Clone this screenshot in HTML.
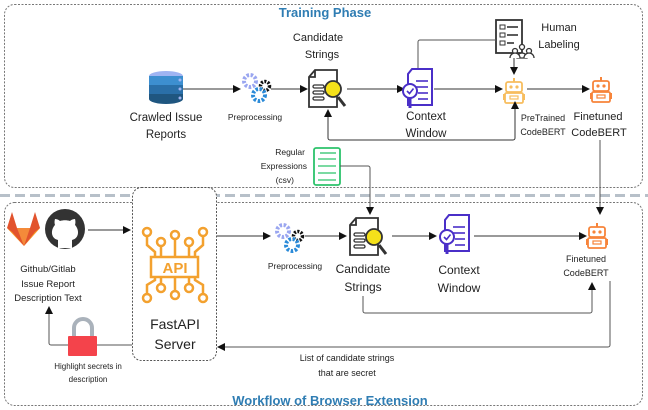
<!DOCTYPE html>
<html><head><meta charset="utf-8"><style>
html,body{margin:0;padding:0;background:#fff;width:648px;height:410px;overflow:hidden}
text{font-family:"Liberation Sans",sans-serif;fill:#222}
</style></head><body>
<svg width="648" height="410" viewBox="0 0 648 410" xmlns="http://www.w3.org/2000/svg">
<defs>
<marker id="a" markerWidth="8" markerHeight="8" refX="7" refY="4" orient="auto" markerUnits="userSpaceOnUse"><path d="M0,0 L8,4 L0,8 z" fill="#111"/></marker>
<g id="gears">
 <circle cx="11" cy="9" r="6" fill="none" stroke="#9aa6f0" stroke-width="4" stroke-dasharray="2.5 1.6"/>
 <circle cx="26" cy="14" r="4.5" fill="none" stroke="#111" stroke-width="3.5" stroke-dasharray="2 1.4"/>
 <circle cx="20" cy="23" r="6" fill="none" stroke="#2a8ad8" stroke-width="4" stroke-dasharray="2.5 1.6"/>
</g>
<g id="cand">
 <path d="M8,1 H30 V38 H2 V8 Z M8,1 V8 H2" fill="#fff" stroke="#333" stroke-width="1.8"/>
 <rect x="6" y="16" width="11" height="3" rx="1.5" fill="none" stroke="#333" stroke-width="1.3"/>
 <rect x="6" y="22" width="11" height="3" rx="1.5" fill="none" stroke="#333" stroke-width="1.3"/>
 <rect x="6" y="28" width="11" height="3" rx="1.5" fill="none" stroke="#333" stroke-width="1.3"/>
 <line x1="31" y1="28" x2="38" y2="37" stroke="#333" stroke-width="3"/>
 <circle cx="26" cy="20" r="8" fill="#f5e11a" stroke="#333" stroke-width="1.8"/>
</g>
<g id="ctx">
 <path d="M10,0 H30 V36 H6 V5 Z" fill="#fff" stroke="#4a2fc8" stroke-width="2"/>
 <line x1="14" y1="12" x2="26" y2="12" stroke="#4a2fc8" stroke-width="1.6"/>
 <line x1="14" y1="18" x2="26" y2="18" stroke="#4a2fc8" stroke-width="1.6"/>
 <line x1="16" y1="24" x2="26" y2="24" stroke="#4a2fc8" stroke-width="1.6"/>
 <line x1="16" y1="30" x2="26" y2="30" stroke="#4a2fc8" stroke-width="1.6"/>
 <circle cx="8" cy="22" r="7" fill="#fff" stroke="#4a2fc8" stroke-width="2"/>
 <path d="M5,22 l2.5,2.5 l4,-5" fill="none" stroke="#4a2fc8" stroke-width="1.6"/>
 <line x1="8" y1="29" x2="8" y2="39" stroke="#4a2fc8" stroke-width="3"/>
</g>
<g id="robot">
 <line x1="11" y1="0" x2="11" y2="4" stroke="currentColor" stroke-width="2"/>
 <rect x="3" y="4" width="16" height="10" rx="2" fill="none" stroke="currentColor" stroke-width="1.8"/>
 <circle cx="8" cy="9" r="1.6" fill="currentColor"/><circle cx="14" cy="9" r="1.6" fill="currentColor"/>
 <rect x="2" y="15" width="18" height="10" rx="1.5" fill="none" stroke="currentColor" stroke-width="1.8"/>
 <rect x="7" y="18" width="8" height="3" fill="none" stroke="currentColor" stroke-width="1.2"/>
 <rect x="0" y="16" width="2" height="6" fill="currentColor"/><rect x="20" y="16" width="2" height="6" fill="currentColor"/>
</g>
</defs>

<rect x="4.5" y="4.5" width="638" height="183" rx="10" fill="none" stroke="#777" stroke-width="1" stroke-dasharray="2 1.5"/>
<line x1="0" y1="195.5" x2="648" y2="195.5" stroke="#b7c0c9" stroke-width="3" stroke-dasharray="10 5"/>
<rect x="4.5" y="202.5" width="638" height="203" rx="10" fill="none" stroke="#777" stroke-width="1" stroke-dasharray="2 1.5"/>
<text x="325" y="17" text-anchor="middle" font-size="13" font-weight="bold" style="fill:#2f7db3">Training Phase</text>
<text x="330" y="405" text-anchor="middle" font-size="13" font-weight="bold" style="fill:#2f7db3">Workflow of Browser Extension</text>

<g>
 <ellipse cx="166" cy="76" rx="17" ry="5" fill="#9fb4f2"/>
 <rect x="149" y="76" width="34" height="9" fill="#3d8fd0"/>
 <rect x="149" y="85" width="34" height="9" fill="#2a6fa8"/>
 <path d="M149,94 h34 v5 a17,5 0 0 1 -34,0 z" fill="#1f5680"/>
 <circle cx="180" cy="80" r="1.5" fill="#9fb4f2"/><circle cx="180" cy="89" r="1.5" fill="#9fb4f2"/><circle cx="180" cy="98" r="1.5" fill="#9fb4f2"/>
</g>
<text x="166" y="121" text-anchor="middle" font-size="11.5">Crawled Issue</text>
<text x="166" y="138" text-anchor="middle" font-size="11.5">Reports</text>
<line x1="183" y1="89" x2="240" y2="89" stroke="#333" marker-end="url(#a)"/>
<use href="#gears" x="239" y="72"/>
<text x="255" y="120" text-anchor="middle" font-size="8.5">Preprocessing</text>
<line x1="271" y1="89" x2="307" y2="89" stroke="#333" marker-end="url(#a)"/>
<use href="#cand" x="307" y="69"/>
<text x="318" y="41" text-anchor="middle" font-size="11">Candidate</text>
<text x="322" y="58" text-anchor="middle" font-size="11">Strings</text>
<line x1="347" y1="89" x2="404" y2="89" stroke="#333" marker-end="url(#a)"/>
<use href="#ctx" x="402" y="69"/>
<text x="426" y="120" text-anchor="middle" font-size="11.5">Context</text>
<text x="426" y="137" text-anchor="middle" font-size="11.5">Window</text>
<line x1="434" y1="89" x2="502" y2="89" stroke="#333" marker-end="url(#a)"/>
<use href="#robot" x="503" y="78" style="color:#f7bd5e"/>
<text x="543" y="121" text-anchor="middle" font-size="9">PreTrained</text>
<text x="543" y="135" text-anchor="middle" font-size="9">CodeBERT</text>
<line x1="527" y1="89" x2="589" y2="89" stroke="#333" marker-end="url(#a)"/>
<use href="#robot" x="590" y="77" style="color:#f7843a"/>
<text x="598" y="120" text-anchor="middle" font-size="11">Finetuned</text>
<text x="599" y="136" text-anchor="middle" font-size="11">CodeBERT</text>
<rect x="496" y="20" width="26" height="33" fill="#fff" stroke="#333" stroke-width="1.8"/>
<rect x="500" y="25" width="5" height="4" fill="none" stroke="#333"/><line x1="507" y1="27" x2="518" y2="27" stroke="#333" stroke-width="1.6"/>
<rect x="500" y="33" width="5" height="4" fill="none" stroke="#333"/><line x1="507" y1="35" x2="518" y2="35" stroke="#333" stroke-width="1.6"/>
<rect x="500" y="41" width="5" height="4" fill="none" stroke="#333"/><line x1="507" y1="43" x2="514" y2="43" stroke="#333" stroke-width="1.6"/>
<g fill="#fff" stroke="#333" stroke-width="1.3">
 <circle cx="522" cy="47" r="2.5"/><path d="M517,58 a5,5 0 0 1 10,0 z"/>
 <circle cx="515" cy="51" r="2.5"/><path d="M510,58 a5,5 0 0 1 10,0"/>
 <circle cx="529" cy="51" r="2.5"/><path d="M524,58 a5,5 0 0 1 10,0"/>
</g>
<text x="559" y="31" text-anchor="middle" font-size="11">Human</text>
<text x="559" y="48" text-anchor="middle" font-size="11">Labeling</text>
<path d="M418,68 V42 a2,2 0 0 1 2,-2 H496" fill="none" stroke="#555"/>
<line x1="514" y1="58" x2="514" y2="74" stroke="#333" marker-end="url(#a)"/>
<path d="M515,108 V138 a2,2 0 0 1 -2,2 H330 a2,2 0 0 1 -2,-2 V110" fill="none" stroke="#333" marker-end="url(#a)"/>
<line x1="515" y1="108" x2="515" y2="102" stroke="#333" marker-end="url(#a)"/>
<rect x="314" y="148" width="26" height="37" rx="2" fill="#fff" stroke="#2cc36b" stroke-width="1.8"/>
<g stroke="#2cc36b" stroke-width="1.3"><line x1="320" y1="153" x2="336" y2="153"/><line x1="318" y1="159" x2="336" y2="159"/><line x1="318" y1="166" x2="336" y2="166"/><line x1="318" y1="173" x2="336" y2="173"/><line x1="318" y1="180" x2="336" y2="180"/></g>
<text x="305" y="155" text-anchor="end" font-size="8.5">Regular</text>
<text x="307" y="169" text-anchor="end" font-size="8.5">Expressions</text>
<text x="294" y="183" text-anchor="end" font-size="8.5">(csv)</text>
<path d="M340,166 H368 a2,2 0 0 1 2,2 V214" fill="none" stroke="#555" marker-end="url(#a)"/>
<line x1="600" y1="140" x2="600" y2="214" stroke="#555" marker-end="url(#a)"/>

<rect x="132.5" y="187.5" width="84" height="173" rx="9" fill="#fff" stroke="#555" stroke-dasharray="2 1.5"/>
<g stroke="#f3a12f" stroke-width="2.5" fill="none">
 <rect x="151" y="257" width="47" height="20"/>
 <circle cx="147" cy="232" r="4"/><circle cx="161" cy="242" r="4"/><circle cx="175" cy="235" r="4"/><circle cx="189" cy="242" r="4"/><circle cx="203" cy="232" r="4"/>
 <circle cx="147" cy="298" r="4"/><circle cx="161" cy="288" r="4"/><circle cx="175" cy="295" r="4"/><circle cx="189" cy="288" r="4"/><circle cx="203" cy="298" r="4"/>
 <path d="M147,236 V245 L155,252 V257 M161,246 V257 M175,239 V257 M189,246 V257 M203,236 V245 L195,252 V257"/>
 <path d="M147,294 V285 L155,280 V277 M161,284 V277 M175,291 V277 M189,284 V277 M203,294 V285 L195,280 V277"/>
</g>
<text x="175" y="273" text-anchor="middle" font-size="15" font-weight="bold" style="fill:#f3a12f">API</text>
<text x="175" y="329" text-anchor="middle" font-size="14">FastAPI</text>
<text x="175" y="349" text-anchor="middle" font-size="14">Server</text>
<path d="M12,212 L17,228 H30 L35,212 L40,228 L24,246 L7,228 Z" fill="#e2532d"/>
<path d="M17,228 H30 L24,246 Z" fill="#f48a3a"/>
<path d="M7,228 L12,232 L24,246 Z M40,228 L35,232 L24,246 Z" fill="#fca326"/>
<circle cx="65" cy="229" r="20" fill="#333"/>
<path d="M58,248 V240 C50,238 51,229 55,225 C54,222 55,219 55,219 C58,219 60,221 60,221 C63,220 67,220 70,221 C70,221 72,219 75,219 C75,219 76,222 75,225 C79,229 80,238 72,240 V248 Z" fill="#fff"/>
<line x1="88" y1="230" x2="130" y2="230" stroke="#333" marker-end="url(#a)"/>
<text x="48" y="272" text-anchor="middle" font-size="9.5">Github/Gitlab</text>
<text x="48" y="287" text-anchor="middle" font-size="9.5">Issue Report</text>
<text x="48" y="301" text-anchor="middle" font-size="9.5">Description Text</text>
<line x1="217" y1="236" x2="270" y2="236" stroke="#333" marker-end="url(#a)"/>
<use href="#gears" x="272" y="222"/>
<text x="295" y="269" text-anchor="middle" font-size="8.5">Preprocessing</text>
<line x1="305" y1="236" x2="346" y2="236" stroke="#333" marker-end="url(#a)"/>
<use href="#cand" x="348" y="217"/>
<text x="363" y="273" text-anchor="middle" font-size="12">Candidate</text>
<text x="363" y="291" text-anchor="middle" font-size="12">Strings</text>
<line x1="392" y1="236" x2="436" y2="236" stroke="#333" marker-end="url(#a)"/>
<use href="#ctx" x="439" y="215"/>
<text x="459" y="274" text-anchor="middle" font-size="12">Context</text>
<text x="459" y="292" text-anchor="middle" font-size="12">Window</text>
<line x1="474" y1="236" x2="586" y2="236" stroke="#333" marker-end="url(#a)"/>
<use href="#robot" x="586" y="223" style="color:#f7843a"/>
<text x="586" y="262" text-anchor="middle" font-size="9">Finetuned</text>
<text x="586" y="276" text-anchor="middle" font-size="9">CodeBERT</text>
<path d="M363,296 V311 a2,2 0 0 0 2,2 H590 a2,2 0 0 0 2,-2 V283" fill="none" stroke="#555" marker-end="url(#a)"/>
<path d="M610,281 V345 a2,2 0 0 1 -2,2 H218" fill="none" stroke="#555" marker-end="url(#a)"/>
<text x="347" y="361" text-anchor="middle" font-size="9">List of candidate strings</text>
<text x="347" y="376" text-anchor="middle" font-size="9">that are secret</text>
<path d="M132,345 H51 a2,2 0 0 1 -2,-2 V307" fill="none" stroke="#555" marker-end="url(#a)"/>
<path d="M74,336 V328 a9,9 0 0 1 18,0 V336" fill="none" stroke="#aab2bb" stroke-width="4"/>
<rect x="68" y="336" width="29" height="20" rx="1" fill="#f4434b"/>
<text x="88" y="369" text-anchor="middle" font-size="8">Highlight secrets in</text>
<text x="88" y="382" text-anchor="middle" font-size="8">description</text>
</svg>
</body></html>
